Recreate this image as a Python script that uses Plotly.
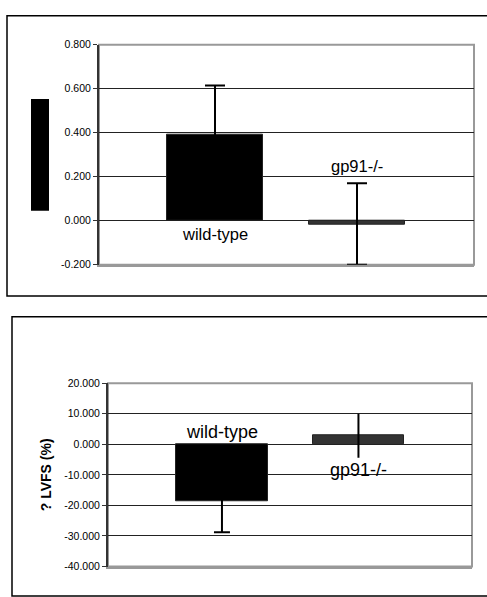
import plotly.graph_objects as go

# ---- data ----
groups = ["wild-type", "gp91-/-"]
top_values = [0.393, -0.016]
top_err_plus = [0.222, 0.186]
top_err_minus = [0.222, 0.184]
top_ticks = [-0.2, 0.0, 0.2, 0.4, 0.6, 0.8]
top_tick_text = ["-0.200", "0.000", "0.200", "0.400", "0.600", "0.800"]

bot_values = [-18.6, 2.9]
bot_err_plus = [10.2, 7.1]
bot_err_minus = [10.2, 7.3]
bot_ticks = [-40, -30, -20, -10, 0, 10, 20]
bot_tick_text = ["-40.000", "-30.000", "-20.000", "-10.000", "0.000", "10.000", "20.000"]
bot_ytitle = "? LVFS (%)"

W, H = 487, 597
def px(x): return x / W
def py(y): return 1 - y / H

bar_colors = ["#000000", "#333333"]
fig = go.Figure()

cap_top = [10, 10]
cap_bot = [8, 0]
for i, g in enumerate(groups):
    fig.add_trace(go.Bar(
        x=[g], y=[top_values[i]], width=0.67,
        marker=dict(color=bar_colors[i], line=dict(color="#222", width=1)),
        error_y=dict(type="data", symmetric=False, array=[top_err_plus[i]],
                     arrayminus=[top_err_minus[i]], color="#000", thickness=2,
                     width=cap_top[i]),
        xaxis="x", yaxis="y", showlegend=False, hoverinfo="skip"))
    fig.add_trace(go.Bar(
        x=[g], y=[bot_values[i]], width=0.67,
        marker=dict(color=bar_colors[i], line=dict(color="#222", width=1)),
        error_y=dict(type="data", symmetric=False, array=[bot_err_plus[i]],
                     arrayminus=[bot_err_minus[i]], color="#000", thickness=2,
                     width=cap_bot[i]),
        xaxis="x2", yaxis="y2", showlegend=False, hoverinfo="skip"))

FONT = "Liberation Sans, Arial, sans-serif"
tickfont = dict(family=FONT, size=10.5, color="#000")
common_y = dict(showgrid=True, gridcolor="#222", gridwidth=1, zeroline=False,
                showline=True, linecolor="#333", linewidth=2, ticks="outside",
                ticklen=4, tickcolor="#333", tickfont=tickfont, mirror=False)
common_x = dict(showticklabels=False, showgrid=False, zeroline=False,
                showline=True, linecolor="#999", linewidth=2, ticks="",
                categoryorder="array", categoryarray=groups)

fig.update_layout(
    width=W, height=H, margin=dict(l=0, r=0, t=0, b=0),
    paper_bgcolor="white", plot_bgcolor="white", bargap=0,
    xaxis=dict(domain=[px(99), px(474)], range=[-0.817, 1.824], anchor="y", **common_x),
    yaxis=dict(domain=[py(264), py(39.5)], range=[-0.2, 0.8], anchor="x",
               tickvals=top_ticks, ticktext=top_tick_text, **common_y),
    xaxis2=dict(domain=[px(108), px(472)], range=[-0.835, 1.832], anchor="y2", **common_x),
    yaxis2=dict(domain=[py(572), py(385)], range=[-40, 20], anchor="x2",
                tickvals=bot_ticks, ticktext=bot_tick_text,
                title=dict(text="<b>" + bot_ytitle + "</b>", standoff=9,
                           font=dict(family=FONT, size=14, color="#000")),
                **common_y),
)

# plot-area gray frame
for xa, ya in (("x", "y"), ("x2", "y2")):
    fig.add_shape(type="rect", xref=f"{xa} domain", yref=f"{ya} domain",
                  x0=0, x1=1, y0=0, y1=1, line=dict(color="#999", width=2), layer="below")

# outer chart boxes
fig.add_shape(type="rect", xref="paper", yref="paper", x0=px(7), x1=px(492),
              y0=py(296), y1=py(10), line=dict(color="#000", width=1.5))
fig.add_shape(type="rect", xref="paper", yref="paper", x0=px(12), x1=px(492),
              y0=py(602), y1=py(317), line=dict(color="#000", width=1.5))
# redacted y-axis title block (top chart)
fig.add_shape(type="rect", xref="paper", yref="paper", x0=px(31), x1=px(49),
              y0=py(209), y1=py(95), line=dict(width=0), fillcolor="#000")

fig.add_annotation(x=groups[0], y=-0.06, xref="x", yref="y", text=groups[0],
                   showarrow=False, font=dict(family=FONT, size=16.5, color="#000"))
fig.add_annotation(x=groups[1], y=0.25, xref="x", yref="y", text=groups[1],
                   showarrow=False, font=dict(family=FONT, size=16.5, color="#000"))
fig.add_annotation(x=groups[0], y=3.9, xref="x2", yref="y2", text=groups[0],
                   showarrow=False, font=dict(family=FONT, size=18, color="#000"))
fig.add_annotation(x=groups[1], y=-8.3, xref="x2", yref="y2", text=groups[1],
                   showarrow=False, font=dict(family=FONT, size=18, color="#000"))

fig.write_html("out.html", config={"displayModeBar": False},
               post_script="document.body.style.margin='0';document.body.style.padding='0';document.body.style.overflow='hidden';")
